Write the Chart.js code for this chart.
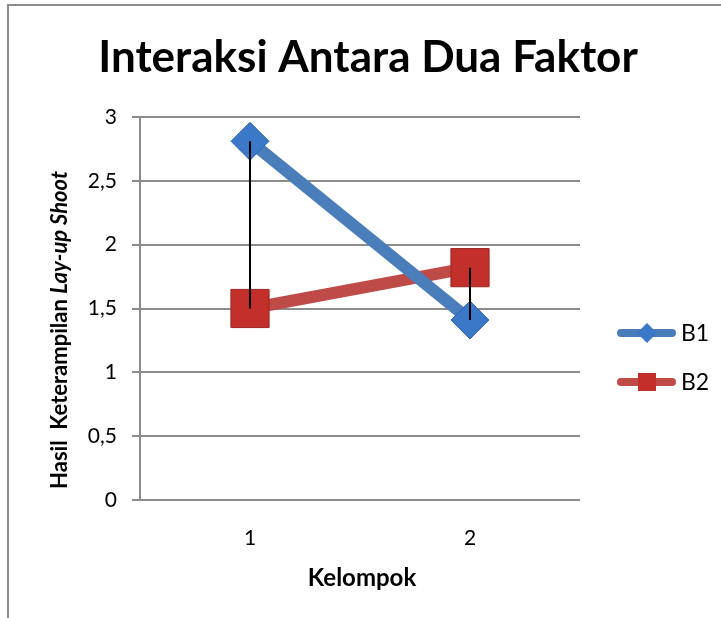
<!DOCTYPE html>
<html>
<head>
<meta charset="utf-8">
<script src="https://cdn.jsdelivr.net/npm/chart.js@4"></script>
<style>
  html, body { margin: 0; padding: 0; background: #fff; }
  #wrap { position: relative; width: 721px; height: 618px; }
  #wrap:before { content: ""; position: absolute; left: 7px; top: 4px; right: 0; bottom: 0;
    border-top: 2px solid #8c8c8c; border-left: 2px solid #8c8c8c; }
</style>
</head>
<body>
<div id="wrap"><canvas id="chart" width="721" height="618"></canvas></div>
<script>
const kelompok = ["1", "2"]
const b1 = [2.81, 1.41]
const b2 = [1.50, 1.82]
const yTicks = [0, 0.5, 1, 1.5, 2, 2.5, 3]

const titleText = "Interaksi Antara Dua Faktor"
const xTitle = "Kelompok"
const yTitleParts = [["Hasil  Keterampilan ", false], ["Lay-up Shoot", true]]

const FONT = "Lato, 'Open Sans', sans-serif"

// black high-low lines between the two series at each category
const highLowLines = {
  id: "highLowLines",
  afterDatasetsDraw(chart) {
    const ctx = chart.ctx
    const m0 = chart.getDatasetMeta(0), m1 = chart.getDatasetMeta(1)
    ctx.save()
    ctx.strokeStyle = "#000"
    ctx.lineWidth = 2
    m0.data.forEach((p, i) => {
      const q = m1.data[i]
      ctx.beginPath()
      ctx.moveTo(p.x, p.y)
      ctx.lineTo(q.x, q.y)
      ctx.stroke()
    })
    ctx.restore()
  }
}

// title, axis titles and the line+marker legend
const texts = {
  id: "texts",
  afterDraw(chart) {
    const ctx = chart.ctx
    const area = chart.chartArea
    ctx.save()
    ctx.fillStyle = "#000"
    ctx.textBaseline = "middle"

    ctx.font = "bold 44px " + FONT
    ctx.textAlign = "center"
    ctx.fillText(titleText, 368, 58)

    ctx.font = "bold 24px " + FONT
    ctx.fillText(xTitle, (area.left + area.right) / 2 + 2, 578)

    // y title with italic part
    ctx.save()
    ctx.translate(60, 330)
    ctx.rotate(-Math.PI / 2)
    ctx.textAlign = "left"
    let total = 0
    yTitleParts.forEach(([t, it]) => {
      ctx.font = (it ? "italic " : "") + "bold 22px " + FONT
      total += ctx.measureText(t).width
    })
    let x = -total / 2
    yTitleParts.forEach(([t, it]) => {
      ctx.font = (it ? "italic " : "") + "bold 22px " + FONT
      ctx.fillText(t, x, 0)
      x += ctx.measureText(t).width
    })
    ctx.restore()

    // legend
    chart.data.datasets.forEach((ds, i) => {
      const y = 333 + i * 49
      ctx.strokeStyle = ds.borderColor
      ctx.lineWidth = 8
      ctx.lineCap = "round"
      ctx.beginPath()
      ctx.moveTo(621, y)
      ctx.lineTo(672, y)
      ctx.stroke()
      ctx.fillStyle = ds.pointBackgroundColor
      if (ds.pointStyle === "rectRot") {
        ctx.beginPath()
        ctx.moveTo(647, y - 10)
        ctx.lineTo(657, y)
        ctx.lineTo(647, y + 10)
        ctx.lineTo(637, y)
        ctx.closePath()
        ctx.fill()
      } else {
        ctx.fillRect(638, y - 9, 18, 18)
      }
      ctx.fillStyle = "#000"
      ctx.font = "23px " + FONT
      ctx.textAlign = "left"
      ctx.fillText(ds.label, 681, y + 1)
    })
    ctx.restore()
  }
}

new Chart(document.getElementById("chart"), {
  type: "line",
  data: {
    labels: kelompok,
    datasets: [{
      label: "B1",
      data: b1,
      borderColor: "#4a7ebb",
      borderWidth: 12,
      pointStyle: "rectRot",
      pointRadius: 19,
      pointHoverRadius: 19,
      pointBackgroundColor: "#3b79c8",
      pointBorderColor: "#2f64a6",
      pointBorderWidth: 1
    }, {
      label: "B2",
      data: b2,
      borderColor: "#be4b48",
      borderWidth: 12,
      pointStyle: "rect",
      pointRadius: 27,
      pointHoverRadius: 27,
      pointBackgroundColor: "#c3302c",
      pointBorderColor: "#9b2522",
      pointBorderWidth: 1
    }]
  },
  options: {
    responsive: false,
    animation: false,
    layout: { padding: { left: 0, right: 141, top: 117, bottom: 0 } },
    plugins: {
      legend: { display: false },
      title: { display: false },
      tooltip: { enabled: false }
    },
    scales: {
      x: {
        offset: true,
        grid: { display: false },
        border: { display: false },
        ticks: { padding: 18, color: "#000", font: { family: FONT, size: 21 } },
        afterFit(scale) { scale.height = 118 }
      },
      y: {
        min: 0,
        max: 3,
        afterBuildTicks(scale) { scale.ticks = yTicks.map(v => ({ value: v })) },
        grid: { color: "#8c8c8c", lineWidth: 2, tickLength: 8 },
        border: { display: true, color: "#8c8c8c", width: 2 },
        ticks: {
          padding: 15,
          color: "#000",
          font: { family: FONT, size: 21 },
          callback: v => String(v).replace(".", ",")
        },
        afterFit(scale) { scale.width = 140 }
      }
    }
  },
  plugins: [highLowLines, texts]
})
</script>
</body>
</html>
